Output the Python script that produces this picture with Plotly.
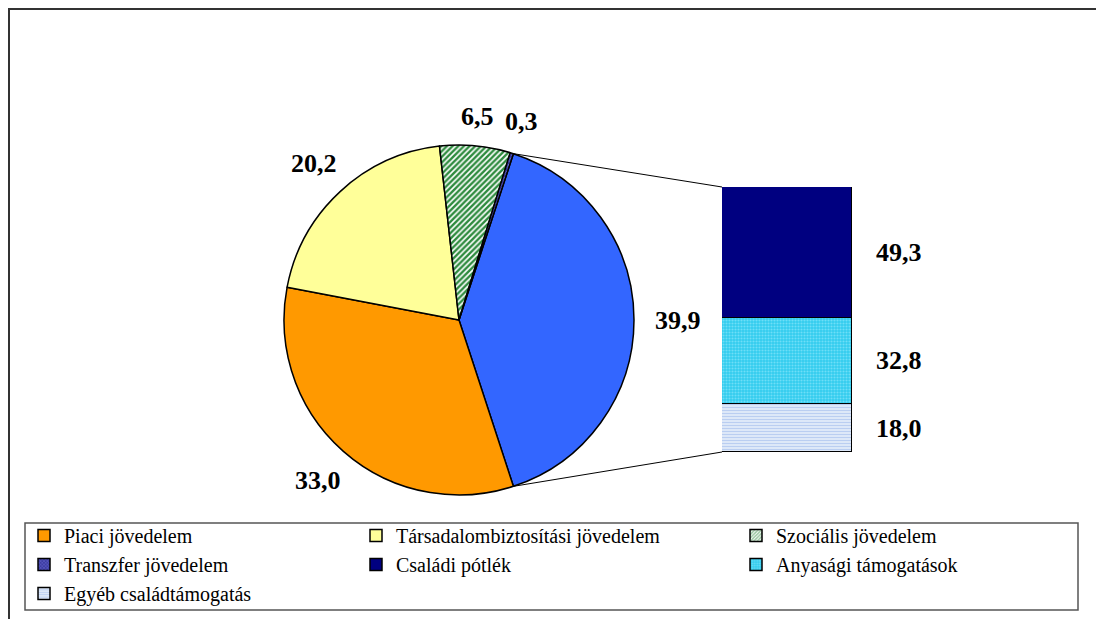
import math

import plotly.graph_objects as go

# pie part (the "other" slice is split out into the bar)
pie_labels = ["Többi", "Piaci jövedelem", "Társadalombiztosítási jövedelem", "Szociális jövedelem", "Transzfer jövedelem"]
pie_values = [39.9, 33.0, 20.2, 6.5, 0.3]
pie_colors = ["#3366FF", "#FF9900", "#FFFF99", "#FFFFFF", "#333399"]

# bar part, bottom to top
bar_labels = ["Egyéb családtámogatás", "Anyasági támogatások", "Családi pótlék"]
bar_values = [18.0, 32.8, 49.3]
bar_colors = ["#E4ECFA", "#33CCEE", "#000080"]

W, H = 1104, 619
OFF = 8  # page margin around the figure
FONT = "Liberation Serif"

# geometry in screen pixels
cx, cy, r = 459, 320, 175
bar_x0, bar_x1 = 722, 852
bar_ybot, bar_ytop = 452, 187


def px(x):
    return (x - OFF) / W


def py(y):
    return 1 - (y - OFF) / H


pie_total = sum(pie_values)
other_span = pie_values[0] / pie_total * 360
rotation = 90 - other_span / 2

fig = go.Figure()

fig.add_trace(
    go.Pie(
        labels=pie_labels,
        values=pie_values,
        sort=False,
        direction="clockwise",
        rotation=rotation,
        textinfo="none",
        hoverinfo="skip",
        showlegend=False,
        domain=dict(x=[px(cx - r), px(cx + r)], y=[py(cy + r), py(cy - r)]),
        marker=dict(
            colors=pie_colors,
            line=dict(color="black", width=1.5),
            pattern=dict(
                shape=["", "", "", "/", "x"],
                fgcolor=["#3366FF", "#FF9900", "#FFFF99", "#2E8B3E", "#7777DD"],
                bgcolor=pie_colors,
                size=[8, 8, 8, 4, 3],
                solidity=[0.3, 0.3, 0.3, 0.6, 0.4],
            ),
        ),
    )
)

# legend-only entries for the pie slices
legend_patterns = {
    "Piaci jövedelem": ("#FF9900", "", "#FF9900", "legend"),
    "Társadalombiztosítási jövedelem": ("#FFFF99", "", "#FFFF99", "legend2"),
    "Szociális jövedelem": ("#FFFFFF", "/", "#2E8B3E", "legend3"),
    "Transzfer jövedelem": ("#333399", "x", "#7777DD", "legend"),
}
for name, (col, shape, fg, leg) in legend_patterns.items():
    fig.add_trace(
        go.Bar(
            x=[None],
            y=[None],
            name=name,
            xaxis="x2",
            yaxis="y2",
            legend=leg,
            marker=dict(
                color=col,
                line=dict(color="black", width=1.5),
                pattern=dict(shape=shape, fgcolor=fg, bgcolor=col, size=3, solidity=0.6),
            ),
        )
    )

bar_patterns = [("-", "#8FB0E8", 3, 0.45), (".", "#AAF0FF", 3, 0.4), ("", "#000080", 8, 0.3)]
bar_legends = ["legend", "legend3", "legend2"]
for name, val, col, (shape, fg, size, sol), leg in zip(bar_labels, bar_values, bar_colors, bar_patterns, bar_legends):
    fig.add_trace(
        go.Bar(
            x=["bar"],
            y=[val],
            name=name,
            legend=leg,
            hoverinfo="skip",
            marker=dict(
                color=col,
                line=dict(color="black", width=1.5),
                pattern=dict(shape=shape, fgcolor=fg, bgcolor=col, size=size, solidity=sol),
            ),
        )
    )

label_font = dict(size=26, family=FONT, color="black", weight="bold")

# value labels on pie
annotations = []
angle = rotation
for v in pie_values:
    span = v / pie_total * 360
    mid = math.radians(angle + span / 2)
    dist = r + 28 + 16 * abs(math.sin(mid))
    annotations.append(
        dict(
            x=px(cx + dist * math.sin(mid)),
            y=py(cy - dist * math.cos(mid)),
            xref="paper",
            yref="paper",
            xanchor="center",
            yanchor="middle",
            text=f"{v:.1f}".replace(".", ","),
            showarrow=False,
            font=label_font,
        )
    )
    angle += span

# value labels beside the bar
bar_total = sum(bar_values)
cum = 0
for v in bar_values:
    annotations.append(
        dict(
            x=px(bar_x1 + 22),
            y=cum + v / 2,
            xref="paper",
            yref="y",
            xanchor="left",
            yanchor="middle",
            text=f"{v:.1f}".replace(".", ","),
            showarrow=False,
            font=label_font,
        )
    )
    cum += v

# connector lines from the split slice to the bar
a0 = math.radians(rotation)
a1 = math.radians(rotation + other_span)
shapes = [
    dict(
        type="line", xref="paper", yref="paper",
        x0=px(cx + r * math.sin(a0)), y0=py(cy - r * math.cos(a0)),
        x1=px(bar_x0), y1=py(bar_ytop),
        line=dict(color="black", width=1),
    ),
    dict(
        type="line", xref="paper", yref="paper",
        x0=px(cx + r * math.sin(a1)), y0=py(cy - r * math.cos(a1)),
        x1=px(bar_x0), y1=py(bar_ybot),
        line=dict(color="black", width=1),
    ),
    # chart frame
    dict(
        type="rect", xref="paper", yref="paper",
        x0=px(9), y0=-0.05, x1=1.05, y1=py(9),
        line=dict(color="#333333", width=2),
    ),
    # legend box
    dict(
        type="rect", xref="paper", yref="paper",
        x0=px(25), y0=py(610), x1=px(1078), y1=py(523),
        line=dict(color="#555555", width=1.5),
    ),
]

legend_style = dict(
    orientation="v",
    yanchor="top",
    y=py(516),
    xanchor="left",
    bgcolor="rgba(0,0,0,0)",
    traceorder="normal",
    font=dict(size=20, family=FONT, color="black"),
    itemclick=False,
    itemdoubleclick=False,
)

fig.update_layout(
    width=W,
    height=H,
    margin=dict(l=0, r=0, t=0, b=0),
    paper_bgcolor="white",
    plot_bgcolor="white",
    font=dict(family=FONT),
    barmode="stack",
    bargap=0,
    showlegend=True,
    xaxis=dict(domain=[px(bar_x0), px(bar_x1)], visible=False, fixedrange=True),
    yaxis=dict(domain=[py(bar_ybot), py(bar_ytop)], range=[0, bar_total], visible=False, fixedrange=True),
    xaxis2=dict(domain=[0, 0.01], visible=False),
    yaxis2=dict(domain=[0, 0.01], visible=False),
    legend=dict(legend_style, x=px(24)),
    legend2=dict(legend_style, x=px(356)),
    legend3=dict(legend_style, x=px(736)),
    annotations=annotations,
    shapes=shapes,
)

fig.write_html("out.html")
